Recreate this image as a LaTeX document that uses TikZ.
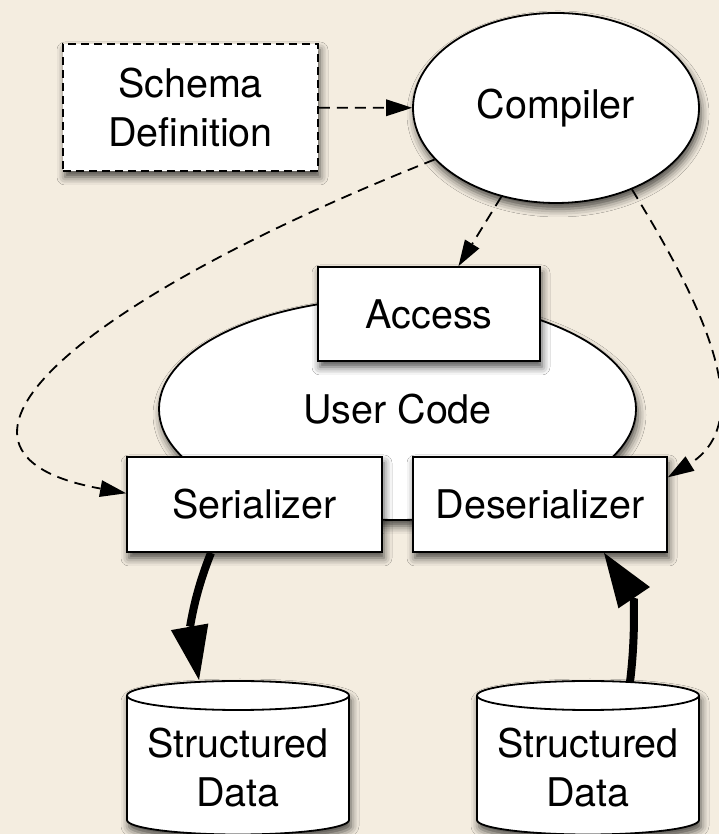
\documentclass[tikz,border=0pt]{standalone}
\usepackage{fontspec}
\setmainfont{TeX Gyre Heros}
\usetikzlibrary{arrows.meta,shadows.blur,calc,shapes.geometric}
\definecolor{bg}{RGB}{244,237,224}
\begin{document}
\begin{tikzpicture}[x=1pt,y=1pt,
  shadowed/.style={blur shadow={shadow xshift=2pt, shadow yshift=-6pt, shadow blur radius=8pt, shadow opacity=70}},
  base/.style={draw=black, line width=1.8pt, fill=white, font=\fontsize{39.5}{49}\selectfont, align=center, inner sep=0pt, shadowed},
  box/.style={base, rectangle},
  oval/.style={base, ellipse},
  labeltext/.style={font=\fontsize{39.5}{49}\selectfont, align=center, inner sep=0pt},
  cylbody/.style={draw=black, line width=1.8pt, fill=white, shadowed},
  dashedge/.style={line width=1.8pt, dash pattern=on 11pt off 7pt, -{Triangle[length=26pt,width=17pt,line width=0pt,fill=black]}},
  bigarrow/.style={line width=8pt, -{Triangle[length=54pt,width=38pt,line width=0pt,fill=black]}}
]
\useasboundingbox (0,0) rectangle (719,834);
\fill[bg] (0,0) rectangle (719,834);

% nodes
\node[box, dash pattern=on 8pt off 5pt, minimum width=255pt, minimum height=127pt] (schema) at (190.5,726.5) {Schema\\Definition};
\node[oval, minimum width=286pt, minimum height=190pt] (comp) at (556,726) {Compiler};
\node[oval, minimum width=477pt, minimum height=222pt] (user) at (397.5,425) {User Code};
\node[box, minimum width=222pt, minimum height=94pt] (access) at (429,520) {Access};
\node[box, minimum width=255pt, minimum height=95pt] (ser) at (254.5,329.5) {Serializer};
\node[box, minimum width=254pt, minimum height=95pt] (deser) at (540,329.5) {Deserializer};

% cylinders
\path[cylbody] (127,138.5) -- (127,14) arc[start angle=180,end angle=360,x radius=111,y radius=14.5] -- (349,138.5) arc[start angle=0,end angle=180,x radius=111,y radius=14.5] -- cycle;
\draw[line width=1.8pt] (127,138.5) arc[start angle=180,end angle=360,x radius=111,y radius=14.5];
\node[labeltext] (data1) at (238,66) {Structured\\Data};

\path[cylbody] (477,138.5) -- (477,14) arc[start angle=180,end angle=360,x radius=111,y radius=14.5] -- (699,138.5) arc[start angle=0,end angle=180,x radius=111,y radius=14.5] -- cycle;
\draw[line width=1.8pt] (477,138.5) arc[start angle=180,end angle=360,x radius=111,y radius=14.5];
\node[labeltext] (data2) at (588,66) {Structured\\Data};

\coordinate (d1top) at (199,154);
\coordinate (d2top) at (630,152);

% connectors
\draw[dashedge] (schema) -- (comp);
\draw[dashedge] (comp) -- (access);
\draw[dashedge] (comp.203) .. controls (80,534) and (-100,382) .. (ser.175);
\draw[dashedge] (comp.-47.5) .. controls (700,534) and (760,414) .. (deser.12.2);

\draw[bigarrow] ($(ser.south)+(-43.5,0)$) to[out=-112,in=100] (d1top);
\draw[bigarrow] (d2top) to[out=83,in=-56] ($(deser.south)+(64,0)$);
\end{tikzpicture}
\end{document}
